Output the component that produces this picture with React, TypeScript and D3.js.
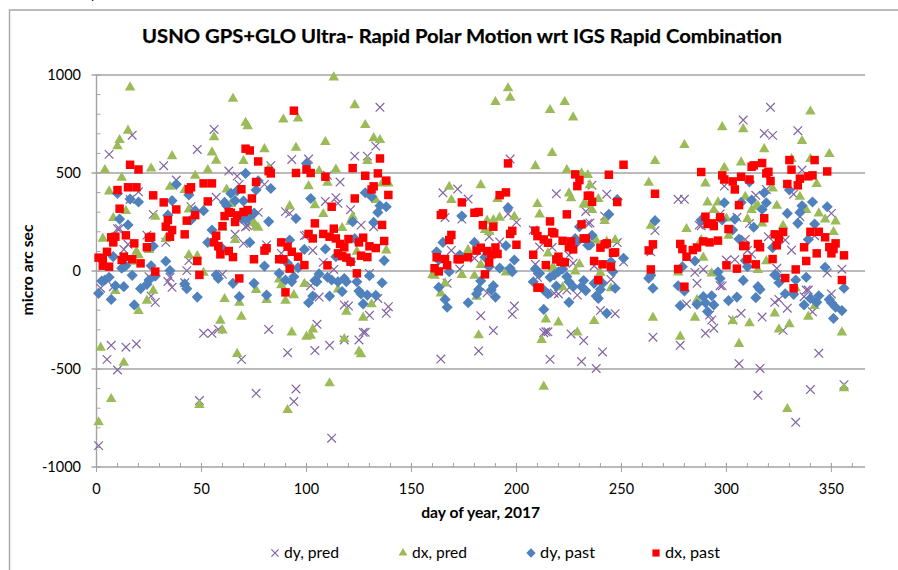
import React from "react";
import * as d3 from "d3";

// [day of year, micro arc sec]
const dyPred = [
  [1,-891],[2,-88],[5,-451],[6,595],[7,-379],[8,-80],[10,216],[10,-505],[11,216],[13,110],[14,-389],[15,136],[16,365],[17,693],[19,-372],[20,404],
  [24,183],[25,-29],[26,-128],[27,289],[28,-160],[32,537],[33,146],[34,-54],[35,-32],[36,-83],[38,464],[42,-60],[43,2],[44,53],[45,328],[48,620],[49,-661],
  [51,-318],[55,-318],[56,722],[57,376],[58,-298],[60,-17],[63,510],[66,187],[67,484],[68,442],[69,-451],[70,141],[71,226],[72,231],[73,243],[76,-624],[77,299],
  [80,442],[81,133],[82,-298],[83,537],[88,90],[90,303],[91,-417],[92,294],[93,569],[94,-666],[95,-602],[99,180],[100,183],[101,571],[102,-75],[103,105],[104,-406],[105,-272],[106,-133],
  [108,44],[109,355],[110,488],[111,-379],[112,-853],[113,8],[114,374],[115,345],[116,454],[118,-352],[118,-173],[120,-179],[121,313],[123,586],[125,-352],[126,234],[127,-313],[128,-313],
  [129,586],[130,-12],[130,-226],[132,226],[133,637],[134,-140],[135,835],[138,-216],[139,-182],
  [164,-449],[165,399],[166,273],[167,-63],[169,105],[172,418],[173,10],[174,265],[177,367],[180,65],[182,-408],[183,-228],[186,-111],[187,175],[189,-304],[192,148],[196,291],[197,571],[198,-221],[199,-179],[200,248],
  [208,209],[209,34],[210,-32],[211,122],[213,-315],[214,-310],[215,-310],[216,-451],[217,121],[218,-114],[219,394],[220,-117],[224,-97],[225,81],[226,-321],[227,40],[229,-123],[231,-462],[232,-355],[233,304],[234,243],[235,245],
  [236,438],[237,26],[238,-497],[240,-202],[241,-413],[242,280],[243,392],[245,-43],[247,-218],[248,145],[251,47],[264,98],[265,-338],[266,206],
  [277,366],[278,-379],[280,366],[281,-168],[285,-7],[286,-63],[287,234],[288,231],[289,8],[290,-318],[292,-225],[293,-250],[294,-292],[297,291],[297,-75],[298,-76],[299,433],[300,56],[303,-250],[304,58],[305,274],[306,-473],[307,-216],[308,770],[309,161],[310,105],[311,243],[312,86],
  [314,386],[315,-634],[316,-497],[317,-235],[318,702],[319,416],[320,175],[321,835],[322,692],[323,-160],[324,14],[325,-145],[327,-303],[328,158],[329,-190],[331,106],[332,392],[333,-772],[334,716],[335,277],[336,515],[337,-131],[338,-97],[339,-97],[340,-605],[341,-208],[342,180],[344,-420],[348,-9],[350,294],[350,-117],[355,9],[356,-580],
];

const dxPred = [
  [1,-772],[2,-391],[3,165],[4,515],[6,406],[7,-653],[8,270],[9,-102],[10,637],[11,668],[12,476],[13,-468],[14,306],[15,716],[16,937],[17,47],[19,98],[20,81],[20,-204],[24,-151],[25,107],[26,523],[27,-100],[28,277],
  [33,163],[35,430],[36,586],[42,413],[44,314],[44,81],[47,486],[48,76],[49,-684],[51,-9],[53,515],[55,605],[56,683],[57,563],[59,-253],[60,-303],[60,221],[61,-143],[62,416],[64,342],[65,879],[66,158],[67,-423],[68,-162],[69,-233],
  [70,561],[71,756],[72,739],[75,246],[76,226],[76,-97],[77,221],[80,622],[81,-148],[82,523],[87,-43],[88,-72],[89,773],[90,-151],[91,-709],[92,331],[93,-313],[94,-123],[95,629],[96,778],[99,-66],
  [100,-335],[101,433],[102,-330],[103,-298],[104,336],[106,510],[108,291],[109,658],[110,450],[111,-573],[113,988],[114,518],[115,-94],[117,219],[118,-347],[119,-208],[121,252],[122,277],[123,846],[124,99],[125,-411],[126,-425],[127,-238],[128,745],[129,561],[131,-170],[132,678],[133,362],[135,668],[136,447],[138,105],[139,447],
  [160,-20],[161,-24],[164,-114],[166,-63],[168,430],[169,362],[174,-20],[177,107],[180,-24],[181,-131],[182,-328],[183,438],[183,31],[185,209],[186,257],[187,199],[189,260],[190,862],[191,367],[192,272],[195,-7],[196,932],[197,884],[199,277],
  [209,535],[210,342],[211,289],[212,-352],[213,-590],[214,-247],[215,90],[216,821],[217,602],[217,13],[218,10],[220,-262],[222,-83],[223,862],[224,515],[225,396],[226,371],[227,784],[228,-2],[229,-313],[230,34],[231,498],[232,340],[233,340],[234,490],[235,438],[236,311],[237,-255],[238,156],[239,367],[240,-9],[242,255],[243,150],[245,-88],[247,158],
  [263,450],[264,231],[265,-238],[266,561],[277,-7],[278,-335],[280,643],[281,214],[285,-238],[286,-148],[288,158],[289,68],[290,447],[291,350],[293,-12],[294,311],[296,350],[298,734],[299,527],[300,268],[301,180],[303,-255],[306,-372],[307,554],[308,724],[309,379],[310,265],[311,-267],[312,311],[314,328],[315,333],[315,5],[317,243],[318,622],[319,50],
  [322,421],[323,-216],[324,333],[325,-298],[327,231],[329,-704],[330,-272],[331,571],[333,-88],[335,379],[336,663],[338,311],[339,-233],[340,814],[340,571],[342,-179],[343,444],[344,294],[347,263],[349,597],[351,199],[352,253],[355,-313],[356,-598],
];

const dyPast = [
  [1,-114],[2.5,-51],[4,-46],[6,-32],[7,-145],[8,73],[9,-75],[10,396],[11,265],[12,14],[13,-80],[13,22],[14,27],[15,235],[16,367],[17,-22],[18,-173],[20,352],[21,-90],[24,-68],[25,-46],[26,27],[27,127],[28,-26],
  [33,50],[34,285],[35,2],[36,359],[38,442],[42,-66],[43,-90],[44,388],[45,260],[47,308],[48,-133],[51,308],[53,146],[55,209],[57,-20],[58,-38],[59,107],[60,115],[61,350],[62,333],[64,396],[65,-63],[66,359],[67,410],[68,-131],[69,268],[70,357],[71,498],[71,260],[73,277],[73,146],[75,294],[75,-63],
  [76,413],[77,460],[80,25],[81,-123],[82,252],[83,421],[87,-12],[90,-46],[91,39],[92,158],[93,-54],[94,-29],[95,268],[96,17],[99,110],[100,549],[101,-162],[102,370],[103,-128],[104,-49],[105,-55],[106,-15],[109,112],[110,-32],[111,-128],[112,-46],[114,73],[115,-55],[117,-105],[118,-38],[119,-55],
  [121,47],[122,251],[123,166],[124,-55],[125,-102],[126,-117],[127,-168],[128,399],[129,-123],[130,-24],[131,379],[132,248],[133,-124],[134,299],[135,333],[136,-60],[137,53],[138,328],
  [162,98],[163,56],[163,-83],[165,146],[166,-145],[167,-185],[168,-4],[173,81],[174,280],[177,-162],[180,146],[181,-117],[182,-94],[183,-51],[185,70],[187,22],[188,-97],[189,-75],[190,-133],[192,15],[195,129],[196,323],[197,14],[198,-4],[199,56],
  [208,-55],[209,10],[211,-12],[213,-97],[213,-196],[215,-117],[216,-32],[218,-20],[219,-77],[220,-4],[222,10],[224,-29],[225,-55],[225,-160],[227,-80],[228,166],[229,150],[230,226],[231,-80],[232,-49],[233,-100],[234,132],[235,133],[236,182],[237,-63],[238,-128],[239,-140],[240,-94],[241,-63],[243,-216],[244,289],[245,47],[246,-4],[247,-88],[248,365],[251,65],
  [263,-37],[264,-22],[265,-88],[266,257],[277,-75],[278,-177],[279,22],[280,-102],[285,51],[286,-170],[288,260],[289,-131],[290,-162],[291,-207],[293,-126],[294,-173],[296,-5],[297,-38],[298,260],[299,348],[301,-151],[303,209],[304,265],[305,-133],[306,163],[307,350],[308,-48],[309,53],[310,22],[311,455],[312,362],[313,223],[314,-136],[315,-80],[316,-94],[317,314],[318,399],[319,348],
  [322,119],[323,-20],[324,-24],[325,-60],[328,-116],[329,294],[330,413],[332,-119],[333,-46],[334,243],[335,299],[336,333],[337,-173],[338,-32],[339,161],[340,-140],[341,352],[342,240],[343,-160],[344,-126],[347,19],[348,328],[349,-145],[350,-162],[351,-242],[352,-185],[355,-202],[356,-88],
];

const dxPast = [
  [1,68],[3,64],[3,27],[5,98],[6,22],[7,172],[8,146],[9,175],[10,413],[11,318],[12,56],[13,73],[14,182],[15,427],[16,542],[17,60],[18,141],[19,427],[20,518],[21,39],[24,121],[25,170],[26,174],[27,386],[28,-3],
  [32,350],[33,226],[34,260],[35,175],[36,209],[38,314],[42,187],[43,257],[44,417],[45,427],[47,285],[48,51],[49,-20],[51,447],[53,355],[55,447],[56,146],[57,180],[58,127],[59,85],[60,229],[61,280],[63,301],[63,102],[64,297],[65,71],[66,250],[67,284],[68,-38],[69,417],[70,301],[71,624],[72,311],[73,615],[74,370],[75,60],
  [76,454],[77,559],[80,104],[81,116],[82,510],[83,498],[87,60],[88,146],[89,60],[90,-109],[91,124],[92,12],[93,98],[94,818],[95,500],[96,73],[99,30],[100,518],[101,189],[102,500],[103,166],[104,243],[108,189],[109,481],[110,29],[111,175],[112,328],[113,216],[114,166],[115,90],[116,138],[117,76],[118,121],[119,68],[120,163],[121,47],
  [122,525],[123,370],[124,-12],[125,146],[126,78],[127,170],[128,486],[129,71],[130,126],[131,416],[132,432],[133,117],[134,498],[135,574],[136,235],[137,153],[138,461],[139,388],
  [161,14],[162,70],[163,-2],[164,286],[165,294],[166,61],[167,29],[168,158],[169,184],[172,60],[173,60],[174,350],[177,70],[180,297],[181,104],[182,301],[183,119],[184,234],[185,-17],[186,102],[187,44],[188,85],[189,226],[190,120],[191,87],[192,387],[195,401],[196,549],[197,189],[198,205],[200,134],
  [208,83],[209,206],[210,178],[210,-85],[211,-85],[213,161],[214,30],[215,144],[216,253],[217,199],[218,192],[219,59],[220,73],[221,47],[222,154],[223,44],[224,289],[225,121],[226,151],[227,110],[228,493],[229,433],[230,464],[231,238],[232,166],[233,166],[234,384],[235,384],[236,353],[237,51],[239,-46],[240,119],[241,34],[242,136],[243,141],[244,491],[245,22],[246,93],[247,95],[248,352],[251,542],
  [263,105],[264,8],[265,136],[266,394],[277,10],[278,138],[279,112],[280,-80],[281,73],[284,107],[286,120],[288,505],[289,151],[290,277],[291,240],[292,146],[293,243],[294,229],[296,155],[297,274],[298,488],[299,467],[300,29],[301,214],[303,457],[304,416],[305,12],[306,336],[307,481],[308,127],[309,129],[310,61],[311,467],[312,532],[313,539],[314,34],[315,138],[316,121],[317,551],[318,269],[319,498],[320,506],[321,459],
  [322,61],[323,187],[324,131],[325,166],[327,199],[328,-36],[329,444],[330,566],[331,517],[332,-88],[333,8],[334,437],[335,471],[337,121],[338,51],[339,483],[340,200],[341,488],[342,566],[343,90],[344,200],[347,172],[348,508],[349,122],[350,90],[351,112],[352,141],[355,-46],[356,80],
];

const xTicks = [0, 50, 100, 150, 200, 250, 300, 350];
const yTicks = [-1000, -500, 0, 500, 1000];

const width = 898;
const height = 570;
const font = "Lato, Carlito, sans-serif";
const axisColor = "#a3a3a3";

const x = d3.scaleLinear().domain([0, 366]).range([96.5, 865]);
const y = d3.scaleLinear().domain([-1000, 1000]).range([467, 75]);

const purple = "#8064a2";
const green = "#9bbb59";
const blue = "#4f81bd";
const red = "#ff0000";

const xMark = d3.symbol(d3.symbolX, 50)()!;
const triangle = d3.symbol(d3.symbolTriangle, 48)()!;
const square = d3.symbol(d3.symbolSquare, 72)()!;
const diamond = d3.symbol(d3.symbolSquare, 62)()!;

const legendX = d3.symbol(d3.symbolX, 36)()!;
const legendTriangle = d3.symbol(d3.symbolTriangle, 34)()!;
const legendSquare = d3.symbol(d3.symbolSquare, 52)()!;
const legendDiamond = d3.symbol(d3.symbolSquare, 44)()!;

function Marks({ data, d, fill, stroke, rotate = 0 }: any) {
  return (
    <g fill={fill} stroke={stroke} strokeWidth={stroke ? 1.2 : 0}>
      {data.map((p: number[], i: number) => (
        <path key={i} d={d} transform={`translate(${x(p[0])},${y(p[1])}) rotate(${rotate})`} />
      ))}
    </g>
  );
}

const legend = [
  { label: "dy, pred", mx: 275, tx: 284, d: legendX, fill: "none", stroke: purple, rotate: 0 },
  { label: "dx, pred", mx: 403, tx: 412, d: legendTriangle, fill: green, stroke: undefined, rotate: 0 },
  { label: "dy, past", mx: 531, tx: 540, d: legendDiamond, fill: blue, stroke: undefined, rotate: 45 },
  { label: "dx, past", mx: 656, tx: 665, d: legendSquare, fill: red, stroke: undefined, rotate: 0 },
];

export default function App() {
  const minorX = d3.range(0, 361, 10);
  const minorY = d3.range(-1000, 1001, 100);
  return (
    <svg
      width={width}
      height={height}
      style={{ position: "absolute", left: 0, top: 0 }}
      fontFamily={font}
      fill="#000"
    >
      <text x={91} y={-1} fontSize={14}>p</text>
      <path d={`M9.5,${height}V10H${width}`} fill="none" stroke="#a6a6a6" strokeWidth={1.4} />

      <text x={462} y={43} textAnchor="middle" fontSize={19.4} fontWeight="bold" stroke="#000" strokeWidth={0.25} textLength={640} lengthAdjust="spacingAndGlyphs">
        USNO GPS+GLO Ultra- Rapid Polar Motion wrt IGS Rapid Combination
      </text>

      {yTicks.map((t) => (
        <g key={t}>
          <line x1={91.5} x2={865} y1={y(t)} y2={y(t)} stroke={axisColor} strokeWidth={1.4} />
          <text x={81} y={y(t) + 5} textAnchor="end" fontSize={14.5}>
            {t}
          </text>
        </g>
      ))}
      {minorY.map((t) => (
        <line key={t} x1={96.5} x2={100.5} y1={y(t)} y2={y(t)} stroke={axisColor} />
      ))}
      <line x1={x(0)} x2={x(0)} y1={y(1000)} y2={y(-1000)} stroke={axisColor} strokeWidth={1.4} />
      {minorX.map((t) => (
        <line key={t} x1={x(t)} x2={x(t)} y1={y(-1000) - 4} y2={y(-1000)} stroke={axisColor} />
      ))}
      {xTicks.map((t) => (
        <g key={t}>
          <line x1={x(t)} x2={x(t)} y1={y(-1000) - 4} y2={y(-1000) + 5} stroke={axisColor} />
          <text x={x(t)} y={494} textAnchor="middle" fontSize={14.5}>
            {t}
          </text>
        </g>
      ))}

      <text x={480.7} y={518} textAnchor="middle" fontSize={14.2} fontWeight="bold" textLength={119} lengthAdjust="spacingAndGlyphs">
        day of year, 2017
      </text>
      <text transform="translate(33,270) rotate(-90)" textAnchor="middle" fontSize={14.2} fontWeight="bold" textLength={91} lengthAdjust="spacingAndGlyphs">
        micro arc sec
      </text>

      <Marks data={dyPred} d={xMark} fill="none" stroke={purple} />
      <Marks data={dxPred} d={triangle} fill={green} />
      <Marks data={dyPast} d={diamond} fill={blue} rotate={45} />
      <Marks data={dxPast} d={square} fill={red} />

      {legend.map((l) => (
        <g key={l.label}>
          <path
            d={l.d}
            transform={`translate(${l.mx},553) rotate(${l.rotate})`}
            fill={l.fill}
            stroke={l.stroke}
            strokeWidth={l.stroke ? 1.2 : 0}
          />
          <text x={l.tx} y={558} fontSize={15} textLength={55} lengthAdjust="spacingAndGlyphs">
            {l.label}
          </text>
        </g>
      ))}
    </svg>
  );
}
